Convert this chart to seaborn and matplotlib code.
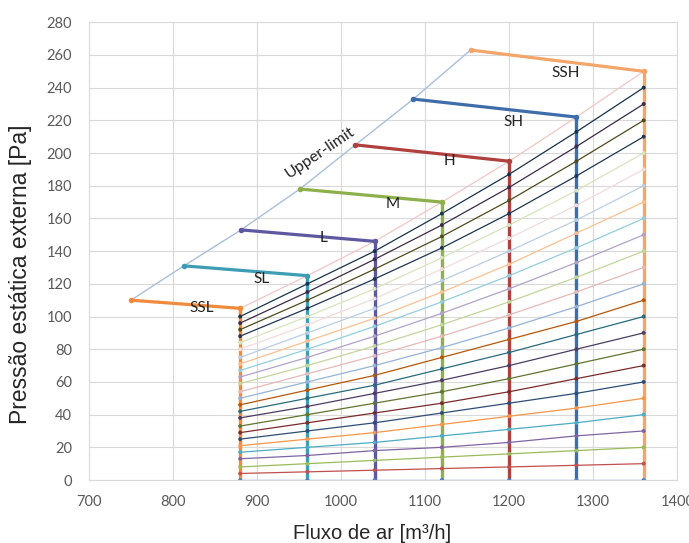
import matplotlib
matplotlib.use("Agg")
import matplotlib.pyplot as plt
import seaborn as sns
import pandas as pd

# ---------------- data ----------------
flows = [880, 960, 1040, 1120, 1200, 1280, 1360]

# pressure of each system line at each flow (lines 0..25)
p_880 = [0, 4, 8, 13, 17, 21, 25, 29, 33, 38, 42, 46, 50, 54, 59, 63, 67, 71, 75, 80, 84, 88, 92, 96, 100, 105]
p_960 = [0, 5, 10, 15, 20, 25, 30, 35, 40, 45, 50, 55, 60, 65, 70, 75, 80, 85, 90, 95, 100, 105, 110, 115, 120, 125]
p_1040 = [0, 6, 12, 18, 23, 29, 35, 41, 47, 53, 58, 64, 70, 76, 82, 88, 94, 99, 105, 111, 117, 123, 129, 135, 140, 146]
p_1120 = [0, 7, 14, 20, 27, 34, 41, 47, 54, 61, 68, 75, 81, 88, 95, 102, 109, 115, 122, 129, 136, 142, 149, 156, 163, 170]
p_1200 = [0, 8, 16, 23, 31, 39, 47, 54, 62, 70, 78, 86, 93, 101, 109, 117, 125, 132, 140, 148, 156, 163, 171, 179, 187, 195]
p_1280 = [0, 9, 18, 27, 35, 44, 53, 62, 71, 80, 89, 97, 106, 115, 124, 133, 142, 151, 159, 168, 177, 186, 195, 204, 213, 222]
p_1360 = [0, 10, 20, 30, 40, 50, 60, 70, 80, 90, 100, 110, 120, 130, 140, 150, 160, 170, 180, 190, 200, 210, 220, 230, 240, 250]
pressures = [p_880, p_960, p_1040, p_1120, p_1200, p_1280, p_1360]

# fan speed curves (start on upper limit, end on the flow column)
fan_names = ["SSL", "SL", "L", "M", "H", "SH", "SSH"]
fan_start_x = [750, 813, 881, 951, 1017, 1086, 1154]
fan_start_y = [110, 131, 153, 178, 205, 233, 263]
fan_end_x = flows
fan_end_y = [105, 125, 146, 170, 195, 222, 250]
fan_label_x = [834, 906, 979, 1061, 1129, 1205, 1267]
fan_label_y = [105, 123, 148, 169, 195, 219, 249]

upper_label = "Upper-limit"
x_ticks = [700, 800, 900, 1000, 1100, 1200, 1300, 1400]
y_ticks = list(range(0, 281, 20))

# ---------------- styles ----------------
fan_colors = ["#F08A3C", "#3C9DB5", "#5E58A0", "#8DB04A", "#B0403E", "#3E6DAA", "#F4A66A"]
line_colors = [
    "#4F81BD", "#C0504D", "#9BBB59", "#8064A2", "#4BACC6", "#F79646",
    "#2C4D75", "#772C2A", "#5F7530", "#4D3B62", "#276A7C", "#B65708",
    "#95B3D7", "#E6B9B8", "#C3D69B", "#B3A2C7", "#93CDDD", "#FAC090",
    "#B9CDE5", "#F2DCDB", "#D7E4BD",
    "#1F3552", "#4F4A1E", "#3B2A48", "#17324A", "#F2C6C4",
]

fig = plt.figure(figsize=(6.89, 5.43), dpi=100)
sns.set_style("white")
ax = fig.add_axes([0.129, 0.116, 0.854, 0.843])

# system lines (diagonals)
for i in range(len(p_1360)):
    ys = [col[i] for col in pressures]
    df = pd.DataFrame({"x": flows, "y": ys})
    sns.lineplot(data=df, x="x", y="y", ax=ax, color=line_colors[i], linewidth=0.9,
                 estimator=None, sort=False, zorder=2)

# vertical flow columns
for j, fx in enumerate(flows):
    col = pressures[j]
    df = pd.DataFrame({"x": [fx] * len(col), "y": col})
    sns.lineplot(data=df, x="x", y="y", ax=ax, color=fan_colors[j], linewidth=2.4,
                 estimator=None, sort=False, orient="y", zorder=3)

# markers on all points
pts = pd.DataFrame({
    "x": [fx for j, fx in enumerate(flows) for i in range(len(p_1360))],
    "y": [pressures[j][i] for j in range(len(flows)) for i in range(len(p_1360))],
    "line": [i for j in range(len(flows)) for i in range(len(p_1360))],
})
sns.scatterplot(data=pts, x="x", y="y", hue="line", palette=line_colors, s=8,
                edgecolor="none", legend=False, ax=ax, zorder=4)

# upper limit
df_up = pd.DataFrame({"x": fan_start_x, "y": fan_start_y})
sns.lineplot(data=df_up, x="x", y="y", ax=ax, color="#A9BFDA", linewidth=1.0,
             estimator=None, sort=False, zorder=2)

# fan curves
for k in range(len(fan_names)):
    df = pd.DataFrame({"x": [fan_start_x[k], fan_end_x[k]], "y": [fan_start_y[k], fan_end_y[k]]})
    sns.lineplot(data=df, x="x", y="y", ax=ax, color=fan_colors[k], linewidth=2.3,
                 marker="o", markersize=4, markeredgewidth=0, estimator=None, sort=False, zorder=5)
    ax.text(fan_label_x[k], fan_label_y[k], fan_names[k], fontsize=11, color="#222222",
            ha="center", va="center", zorder=6, family="Lato")

ax.text(975, 200, upper_label, fontsize=11.5, color="#222222", rotation=34,
        ha="center", va="center", rotation_mode="anchor", family="Lato")

ax.set_xlim(700, 1400)
ax.set_ylim(0, 280)
ax.set_xticks(x_ticks)
ax.set_yticks(y_ticks)
ax.grid(True, color="#D9D9D9", linewidth=0.8)
ax.set_axisbelow(True)
for s in ax.spines.values():
    s.set_color("#D9D9D9")
    s.set_linewidth(0.8)
ax.tick_params(axis="y", length=0, labelsize=10.5, colors="#595959", pad=12)
ax.tick_params(axis="x", length=0, labelsize=10.5, colors="#595959", pad=11)
for lab in ax.get_xticklabels() + ax.get_yticklabels():
    lab.set_family("Lato")

ax.set_xlabel("Fluxo de ar [m³/h]", fontsize=14.5, family="Liberation Sans")
ax.set_ylabel("Pressão estática externa [Pa]", fontsize=16.5, family="Liberation Sans")
ax.xaxis.set_label_coords(0.481, -0.097)
ax.yaxis.set_label_coords(-0.097, 0.45)

fig.savefig("out.png", dpi=100)
